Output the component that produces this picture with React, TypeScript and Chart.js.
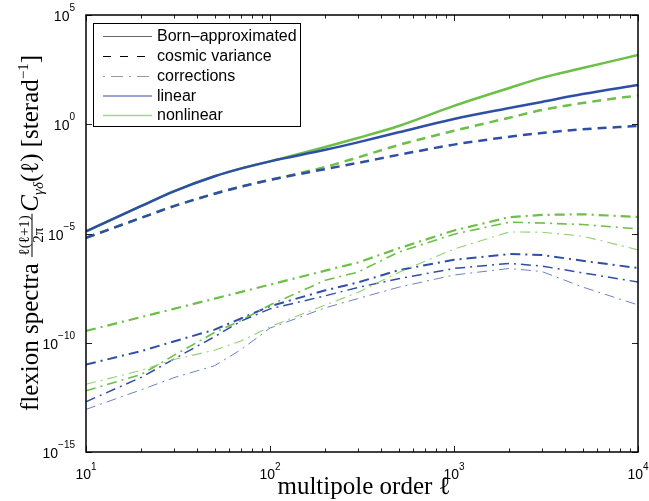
import React, { useEffect, useRef } from "react";
import { Chart, registerables } from "chart.js";

Chart.register(...registerables);

// multipole order ℓ
const ells = [10, 20, 30, 50, 70, 100, 200, 300, 500, 1000, 2000, 3000, 5000, 10000];

// Born-approximated spectra
const bornLinear = [1.26e-5, 1.82e-4, 8.51e-4, 4.17e-3, 9.55e-3, 2.0e-2, 6.76e-2, 0.148, 0.427, 1.74, 5.5, 10.5, 24.0, 63.1];
const bornNonlinear = [1.26e-5, 1.82e-4, 8.51e-4, 4.17e-3, 9.55e-3, 2.0e-2, 9.12e-2, 0.234, 0.832, 6.92, 45.7, 132, 372, 1479];

// cosmic variance
const cvLinear = [6.31e-6, 5.25e-5, 1.78e-4, 6.61e-4, 1.41e-3, 2.82e-3, 8.91e-3, 1.7e-2, 3.98e-2, 0.117, 0.269, 0.398, 0.589, 0.832];
const cvNonlinear = [6.31e-6, 5.25e-5, 1.78e-4, 6.61e-4, 1.41e-3, 2.82e-3, 1.12e-2, 3.02e-2, 0.112, 0.501, 2.0, 4.47, 9.33, 20.9];

// corrections (nonlinear, green)
const corrNonlinA = [3.47e-10, 1.51e-9, 3.55e-9, 1.05e-8, 2.14e-8, 4.57e-8, 2.0e-7, 4.68e-7, 2.09e-6, 1.38e-5, 5.62e-5, 7.08e-5, 7.59e-5, 5.75e-5];
const corrNonlinB = [6.31e-13, 3.55e-12, 2.63e-11, 2.95e-10, 1.07e-9, 5.37e-9, 7.24e-8, 1.7e-7, 1.41e-6, 9.33e-6, 3.31e-5, 3.02e-5, 2.57e-5, 1.62e-5];
const corrNonlinC = [1.26e-12, 5.5e-12, 1.7e-11, 4.57e-11, 1.23e-10, 5.37e-10, 5.37e-9, 2.0e-8, 1.66e-7, 1.95e-6, 1.17e-5, 1.15e-5, 7.59e-6, 1.78e-6];

// corrections (linear, blue)
const corrLinA = [1.0e-11, 4.17e-11, 1.15e-10, 3.98e-10, 1.32e-9, 4.68e-9, 2.51e-8, 5.75e-8, 2.09e-7, 6.31e-7, 1.15e-6, 1.05e-6, 5.62e-7, 2.63e-7];
const corrLinB = [2.0e-13, 2.63e-12, 1.78e-11, 1.91e-10, 1.0e-9, 3.55e-9, 1.41e-8, 3.39e-8, 8.51e-8, 2.51e-7, 4.27e-7, 3.24e-7, 1.58e-7, 6.03e-8];
const corrLinC = [8.91e-14, 7.08e-13, 2.51e-12, 8.91e-12, 5.01e-11, 4.68e-10, 3.98e-9, 1.05e-8, 3.47e-8, 1.26e-7, 2.51e-7, 1.82e-7, 3.55e-8, 5.37e-9];

// ticks
const xMajorTicks = [10, 100, 1000, 10000];
const xTickExponents = ["1", "2", "3", "4"];
const xMinorTicks = [20, 30, 40, 50, 60, 70, 80, 90, 200, 300, 400, 500, 600, 700, 800, 900, 2000, 3000, 4000, 5000, 6000, 7000, 8000, 9000];
const yTickValues = [1e-15, 1e-10, 1e-5, 1, 1e5];
const yTickExponents = ["−15", "−10", "−5", "0", "5"];
const tickBase = "10";

const legendLabels = ["Born–approximated", "cosmic variance", "corrections", "linear", "nonlinear"];

const BLUE = "#2f4fa6";
const GREEN = "#6cbf47";
const DASH = [9, 6];
const DASHDOT = [10, 5, 2, 5];

function pts(vals: number[]) {
  return ells.map((l, i) => ({ x: l, y: vals[i] }));
}

const SANS = '"Liberation Sans", Arial, sans-serif';
const SERIF = '"Liberation Serif", "Times New Roman", serif';

const decorPlugin = {
  id: "decor",
  afterDraw(chart: any) {
    const { ctx, chartArea: a, scales } = chart;
    ctx.save();
    const line = (x1: number, y1: number, x2: number, y2: number) => {
      ctx.beginPath();
      ctx.moveTo(x1, y1);
      ctx.lineTo(x2, y2);
      ctx.stroke();
    };
    // inner ticks
    ctx.strokeStyle = "#222";
    ctx.lineWidth = 1;
    ctx.setLineDash([]);
    for (const v of [...xMajorTicks, ...xMinorTicks]) {
      const px = Math.round(scales.x.getPixelForValue(v)) + 0.5;
      const len = xMajorTicks.includes(v) ? 6 : 3.5;
      line(px, a.bottom, px, a.bottom - len);
      line(px, a.top, px, a.top + len);
    }
    for (const v of yTickValues) {
      const py = Math.round(scales.y.getPixelForValue(v)) + 0.5;
      line(a.left, py, a.left + 6, py);
      line(a.right, py, a.right - 6, py);
    }
    // frame
    ctx.strokeStyle = "#000";
    ctx.lineWidth = 1.5;
    ctx.strokeRect(a.left, a.top, a.right - a.left, a.bottom - a.top);

    // tick labels: "10" with raised exponent
    ctx.fillStyle = "#000";
    ctx.textBaseline = "alphabetic";
    ctx.textAlign = "left";
    const baseFont = "14px " + SANS;
    const expFont = "10px " + SANS;
    xMajorTicks.forEach((v, i) => {
      const px = scales.x.getPixelForValue(v);
      ctx.font = baseFont;
      const wb = ctx.measureText(tickBase).width;
      ctx.font = expFont;
      const we = ctx.measureText(xTickExponents[i]).width;
      const x0 = px - (wb + we) / 2;
      ctx.font = baseFont;
      ctx.fillText(tickBase, x0, a.bottom + 27);
      ctx.font = expFont;
      ctx.fillText(xTickExponents[i], x0 + wb, a.bottom + 18);
    });
    yTickValues.forEach((v, i) => {
      const py = scales.y.getPixelForValue(v);
      ctx.font = baseFont;
      const wb = ctx.measureText(tickBase).width;
      ctx.font = expFont;
      const we = ctx.measureText(yTickExponents[i]).width;
      const right = a.left - 11;
      ctx.font = baseFont;
      ctx.fillText(tickBase, right - we - wb, py + 6);
      ctx.font = expFont;
      ctx.fillText(yTickExponents[i], right - we, py - 4);
    });

    // legend
    const lx = 93.5, ly = 23.5, lw = 207, lh = 103;
    ctx.fillStyle = "#fff";
    ctx.fillRect(lx, ly, lw, lh);
    ctx.lineWidth = 1;
    ctx.strokeStyle = "#000";
    ctx.strokeRect(lx, ly, lw, lh);
    const rows = [36, 56, 76, 95.5, 115];
    const sample = [
      { c: "#666", d: [] as number[], w: 1 },
      { c: "#000", d: [8, 9], w: 1 },
      { c: "#999", d: [2, 6, 12, 6], w: 1 },
      { c: BLUE, d: [] as number[], w: 1 },
      { c: "#9fd98a", d: [] as number[], w: 1.5 },
    ];
    ctx.font = "16px " + SANS;
    ctx.textBaseline = "middle";
    ctx.textAlign = "left";
    rows.forEach((ry, i) => {
      ctx.strokeStyle = sample[i].c;
      ctx.lineWidth = sample[i].w;
      ctx.setLineDash(sample[i].d);
      line(103, ry + 0.5, 152, ry + 0.5);
      ctx.setLineDash([]);
      ctx.fillStyle = "#000";
      ctx.fillText(legendLabels[i], 157, ry + 1);
    });

    // x title
    ctx.fillStyle = "#000";
    ctx.font = "25px " + SERIF;
    ctx.textAlign = "center";
    ctx.textBaseline = "alphabetic";
    ctx.fillText("multipole order ℓ", 364, 494);

    // y title (rotated)
    const big = "25px " + SERIF;
    const bigIt = "italic 25px " + SERIF;
    const small = "15px " + SERIF;
    const smallIt = "italic 15px " + SERIF;
    const measure = (t: string, f: string) => {
      ctx.font = f;
      return ctx.measureText(t).width;
    };
    const s1 = "flexion spectra ";
    const num = "ℓ(ℓ+1)";
    const den = "2π";
    const wNum = measure(num, small);
    const wDen = measure(den, small);
    const wFrac = Math.max(wNum, wDen) + 3;
    const w1 = measure(s1, big);
    const wC = measure("C", bigIt);
    const wSub = measure("γδ", smallIt);
    const wL = measure("(ℓ)", big);
    const wS = measure(" [sterad", big);
    const wSup = measure("−1", small);
    const wB = measure("]", big);
    const total = w1 + wFrac + 2 + wC + wSub + wL + wS + wSup + wB;
    ctx.translate(38, 233);
    ctx.rotate(-Math.PI / 2);
    let x = -total / 2;
    ctx.textAlign = "left";
    ctx.textBaseline = "alphabetic";
    ctx.font = big;
    ctx.fillText(s1, x, 0);
    x += w1;
    ctx.font = small;
    ctx.fillText(num, x + (wFrac - wNum) / 2, -9.5);
    ctx.fillText(den, x + (wFrac - wDen) / 2, 5);
    ctx.fillRect(x, -6.5, wFrac, 1);
    x += wFrac + 2;
    ctx.font = bigIt;
    ctx.fillText("C", x, 0);
    x += wC;
    ctx.font = smallIt;
    ctx.fillText("γδ", x, 5);
    x += wSub;
    ctx.font = big;
    ctx.fillText("(ℓ)", x, 0);
    x += wL;
    ctx.fillText(" [sterad", x, 0);
    x += wS;
    ctx.font = small;
    ctx.fillText("−1", x, -10);
    x += wSup;
    ctx.font = big;
    ctx.fillText("]", x, 0);
    ctx.restore();
  },
};

export default function App() {
  const ref = useRef<HTMLCanvasElement | null>(null);
  useEffect(() => {
    document.body.style.margin = "0";
    document.body.style.overflow = "hidden";
    const canvas = ref.current;
    if (!canvas) return;
    const mk = (label: string, data: number[], color: string, width: number, dash: number[], smooth: boolean) => ({
      label,
      data: pts(data),
      borderColor: color,
      backgroundColor: color,
      borderWidth: width,
      borderDash: dash,
      pointRadius: 0,
      fill: false,
      tension: 0,
      cubicInterpolationMode: smooth ? "monotone" : "default",
    });
    const chart = new Chart(canvas, {
      type: "line",
      data: {
        datasets: [
          mk("corr linear C", corrLinC, "#6b82c8", 1, DASHDOT, false),
          mk("corr nonlinear C", corrNonlinC, "#92d172", 1.1, DASHDOT, false),
          mk("corr linear B", corrLinB, BLUE, 1.5, DASHDOT, false),
          mk("corr nonlinear B", corrNonlinB, GREEN, 1.6, DASHDOT, false),
          mk("corr linear A", corrLinA, BLUE, 2, DASHDOT, false),
          mk("corr nonlinear A", corrNonlinA, GREEN, 2.2, DASHDOT, false),
          mk("cv linear", cvLinear, BLUE, 2.5, DASH, true),
          mk("cv nonlinear", cvNonlinear, GREEN, 2.5, DASH, true),
          mk("born linear", bornLinear, BLUE, 2.5, [], true),
          mk("born nonlinear", bornNonlinear, GREEN, 2.5, [], true),
        ] as any,
      },
      options: {
        responsive: false,
        animation: false,
        devicePixelRatio: 1,
        layout: { padding: { top: 15, right: 11, left: 0, bottom: 0 } },
        plugins: { legend: { display: false }, tooltip: { enabled: false } },
        scales: {
          x: {
            type: "logarithmic",
            min: 10,
            max: 10000,
            grid: { display: false, drawTicks: false },
            border: { display: false },
            ticks: { display: false },
            afterBuildTicks: (s: any) => {
              s.ticks = [...xMajorTicks, ...xMinorTicks].sort((p, q) => p - q).map((v) => ({ value: v }));
            },
            afterFit: (s: any) => {
              s.height = 49;
              s.paddingLeft = 0;
              s.paddingRight = 0;
            },
          },
          y: {
            type: "logarithmic",
            min: 1e-15,
            max: 1e5,
            grid: { display: false, drawTicks: false },
            border: { display: false },
            ticks: { display: false },
            afterBuildTicks: (s: any) => {
              s.ticks = yTickValues.map((v) => ({ value: v }));
            },
            afterFit: (s: any) => {
              s.width = 86;
              s.paddingTop = 0;
              s.paddingBottom = 0;
            },
          },
        },
      } as any,
      plugins: [decorPlugin],
    });
    return () => chart.destroy();
  }, []);
  return (
    <div style={{ width: 649, height: 501 }}>
      <canvas ref={ref} width={649} height={501} style={{ display: "block" }} />
    </div>
  );
}
